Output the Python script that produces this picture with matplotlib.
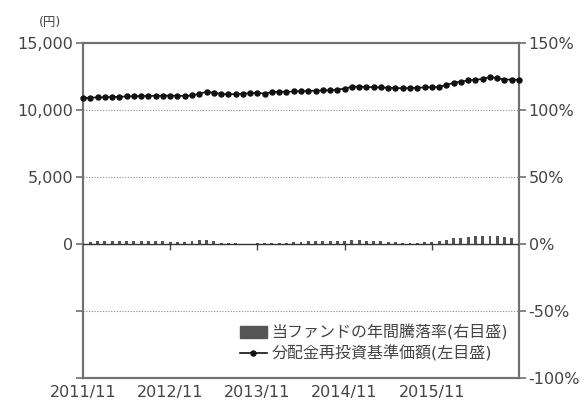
import numpy as np
import matplotlib.pyplot as plt
from matplotlib.patches import Patch
from matplotlib.lines import Line2D

plt.rcParams['font.family'] = ['DejaVu Sans', 'Noto Sans CJK JP']

# monthly data, 2011/11 .. 2016/11
nav = [10870, 10900, 10920, 10930, 10950, 10970, 10990, 11010, 11020, 11030,
       11040, 11050, 11050, 11040, 11030, 11060, 11200, 11330, 11260, 11180,
       11150, 11170, 11200, 11230, 11250, 11200, 11300, 11350, 11340, 11360,
       11380, 11400, 11420, 11440, 11450, 11500, 11580, 11700, 11730, 11690,
       11680, 11660, 11640, 11620, 11600, 11620, 11640, 11660, 11680, 11700,
       11850, 12000, 12100, 12180, 12250, 12280, 12450, 12350, 12250, 12250,
       12230]
ret = [1.5, 1.5, 1.8, 1.8, 1.8, 2.0, 2.0, 1.8, 1.8, 2.0,
       2.0, 1.8, 1.5, 1.5, 1.5, 1.8, 2.5, 2.8, 2.2, 1.0,
       0.5, 0.3, 0.2, 0.2, 0.3, 0.5, 0.8, 1.0, 1.0, 1.2,
       1.5, 1.8, 2.0, 2.2, 2.2, 2.0, 2.0, 2.5, 2.5, 2.2,
       2.0, 1.8, 1.5, 1.2, 1.0, 1.0, 1.0, 1.2, 1.5, 2.0,
       3.0, 4.0, 4.5, 5.0, 5.5, 6.0, 6.0, 5.5, 5.0, 4.5,
       4.2]
year_pos = [0, 12, 24, 36, 48]
year_labels = ['2011/11', '2012/11', '2013/11', '2014/11', '2015/11']
left_ticks = [-10000, -5000, 0, 5000, 10000, 15000]
left_labels = ['', '', '0', '5,000', '10,000', '15,000']
right_ticks = [-100, -50, 0, 50, 100, 150]
right_labels = ['-100%', '-50%', '0%', '50%', '100%', '150%']

x = np.arange(len(nav))
txt = '#444444'
spc = '#707070'

fig = plt.figure(figsize=(5.87, 4.05), dpi=100)
ax = fig.add_axes([0.1414, 0.0667, 0.7428, 0.828])
ax2 = ax.twinx()

ax2.bar(x, ret, width=0.4, color='#555555', zorder=2)
ax.plot(x, nav, color='#111111', marker='o', markersize=3.6, linewidth=1.2,
        clip_on=False, zorder=5)

ax.set_zorder(ax2.get_zorder() + 1)
ax.patch.set_visible(False)

ax.set_xlim(0, 60)
ax.set_ylim(-10000, 15000)
ax2.set_ylim(-100, 150)

for v in [5000, 10000, -5000]:
    ax.axhline(v, color='#888888', linestyle=(0, (1, 1.5)), linewidth=0.8, zorder=1)
ax.axhline(0, color='#333333', linewidth=1.0, zorder=3)

ax.set_yticks(left_ticks)
ax.set_yticklabels(left_labels)
ax2.set_yticks(right_ticks)
ax2.set_yticklabels(right_labels)
ax.set_xticks(year_pos)
ax.set_xticklabels(year_labels)

ax.tick_params(axis='x', length=0, pad=5, labelsize=11.5, colors=txt)
ax.tick_params(axis='y', length=5, width=1.2, color=spc, pad=2, labelsize=11.5, labelcolor=txt)
ax2.tick_params(axis='y', length=5, width=1.2, color=spc, pad=2, labelsize=11.5, labelcolor=txt)

# year ticks on the zero line
sec = ax.secondary_xaxis(0.4)
sec.set_xticks(year_pos[1:])
sec.set_xticklabels([])
sec.tick_params(axis='x', length=4, width=1.0, color='#444444', direction='out')
sec.spines['bottom'].set_visible(False)

for a in (ax, ax2):
    for s in a.spines.values():
        s.set_color(spc)
        s.set_linewidth(1.5)

ax.text(-0.075, 1.04, '(円)', transform=ax.transAxes, fontsize=9,
        color=txt, ha='center', va='bottom')

handles = [Patch(facecolor='#555555', edgecolor='#555555'),
           Line2D([], [], color='#111111', marker='o', markersize=3.6, linewidth=1.2)]
labels = ['当ファンドの年間騰落率(右目盛)', '分配金再投資基準価額(左目盛)']
ax.legend(handles, labels, loc='lower right', bbox_to_anchor=(0.997, 0.02),
          frameon=False, fontsize=11.5, handlelength=1.7, handleheight=0.8,
          handletextpad=0.3, labelspacing=0.3, borderaxespad=0.2, labelcolor=txt)

fig.savefig('out.png', dpi=100)
